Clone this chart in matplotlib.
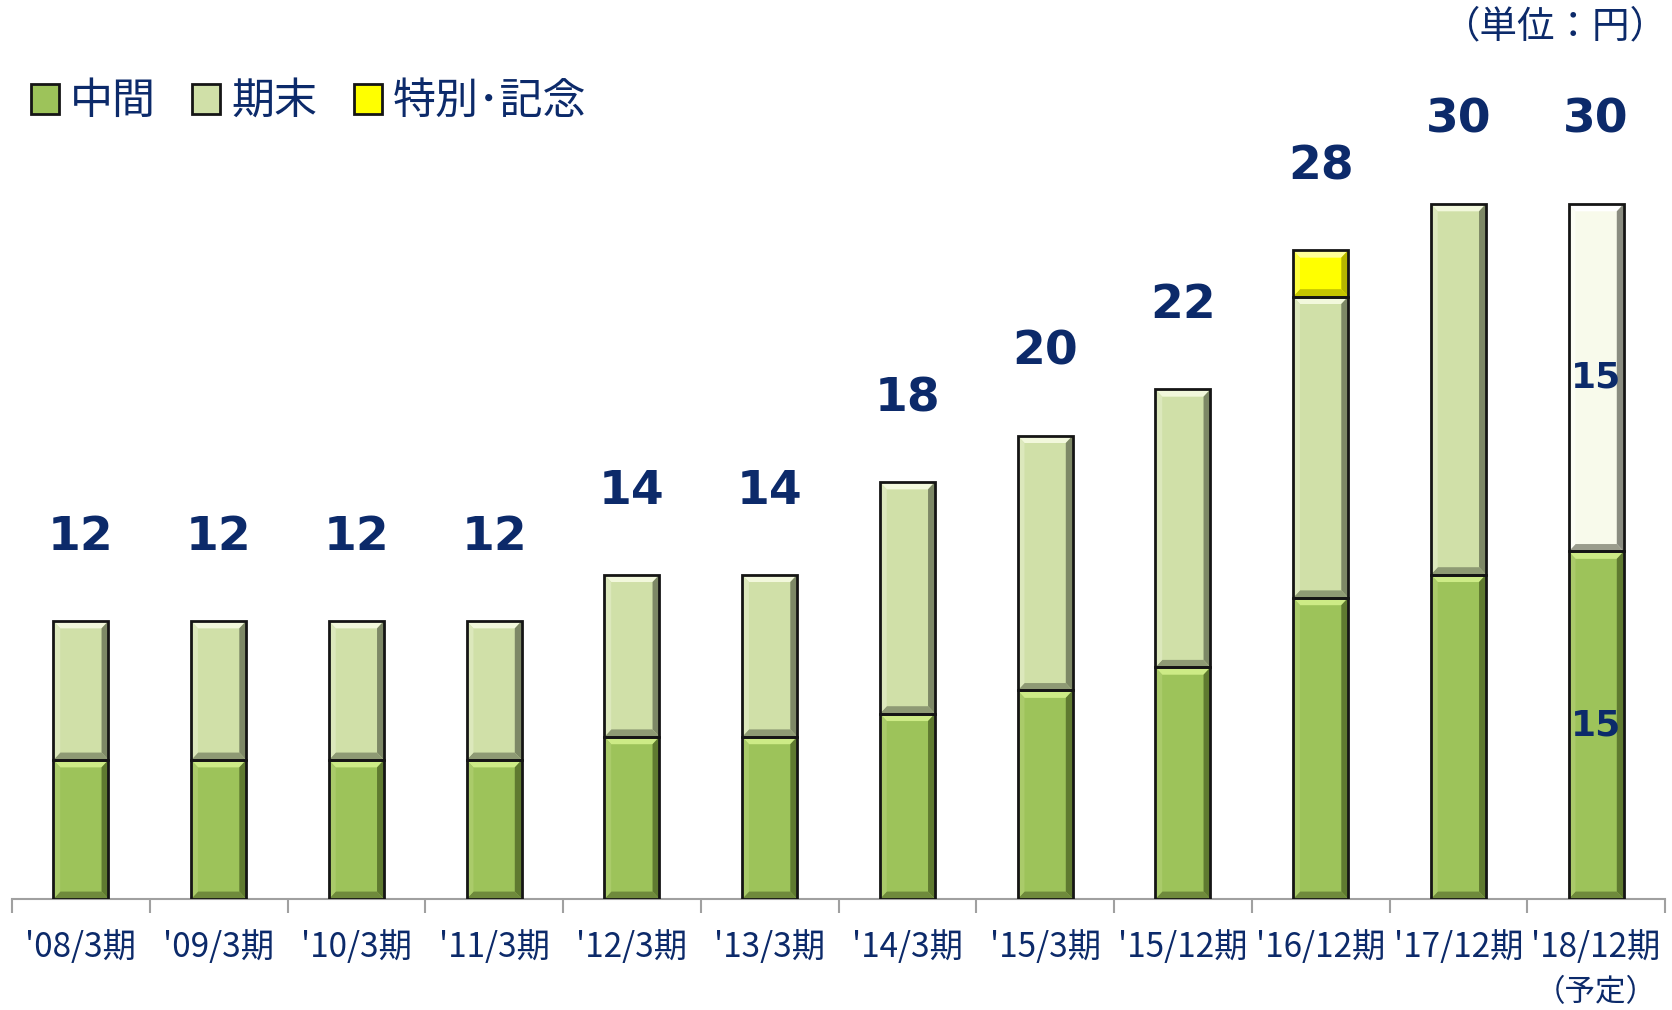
import matplotlib
matplotlib.use("Agg")
import matplotlib.pyplot as plt
from matplotlib.patches import Polygon, Rectangle, Patch

plt.rcParams['font.family'] = ['Noto Sans CJK JP', 'DejaVu Sans']

categories = ["'08/3期", "'09/3期", "'10/3期", "'11/3期", "'12/3期", "'13/3期",
              "'14/3期", "'15/3期", "'15/12期", "'16/12期", "'17/12期", "'18/12期"]
interim = [6, 6, 6, 6, 7, 7, 8, 9, 10, 13, 14, 15]
yearend = [6, 6, 6, 6, 7, 7, 10, 11, 12, 13, 16, 15]
special = [0, 0, 0, 0, 0, 0, 0, 0, 0, 2, 0, 0]
totals = [12, 12, 12, 12, 14, 14, 18, 20, 22, 28, 30, 30]
legend_labels = ["中間", "期末", "特別･記念"]

NAVY = "#0C2A6A"
W, H = 1672, 1010
fig = plt.figure(figsize=(W / 100, H / 100), dpi=100)
ax = fig.add_axes([12 / W, 111 / H, (1665 - 12) / W, 899 / H])
n = len(categories)
ax.set_xlim(-0.5, n - 0.5)
ax.set_ylim(0, 899 / 23.17)

x = list(range(n))
bw = 0.40
# colour sets: face, top, right, bottom, left
C_INT = ("#9DC35A", "#CDEB86", "#5F7A30", "#6F8A3C", "#AACB6A")
C_END = ("#D0E0A8", "#F2F8DC", "#7D8866", "#8E9A74", "#DCE8BC")
C_PLAN = ("#F8FAEB", "#FFFFFF", "#8A8C80", "#9A9C8C", "#FCFDF4")
C_SP = ("#FFFF00", "#FFFF99", "#B5B500", "#C4C400", "#FFFF40")

bx, by = 0.05, 0.32


def seg(xc, bottom, h, cols):
    if h <= 0:
        return
    face, ctop, cright, cbot, cleft = cols
    L, R = xc - bw / 2, xc + bw / 2
    b, t = bottom, bottom + h
    ax.add_patch(Rectangle((L, b), bw, h, facecolor=face, edgecolor="none", zorder=2))
    ax.add_patch(Polygon([(L, t), (R, t), (R - bx, t - by), (L + bx, t - by)],
                         closed=True, facecolor=ctop, edgecolor="none", zorder=3))
    ax.add_patch(Polygon([(R, t), (R, b), (R - bx, b + by), (R - bx, t - by)],
                         closed=True, facecolor=cright, edgecolor="none", zorder=3))
    ax.add_patch(Polygon([(L, b), (R, b), (R - bx, b + by), (L + bx, b + by)],
                         closed=True, facecolor=cbot, edgecolor="none", zorder=3))
    ax.add_patch(Polygon([(L, t), (L, b), (L + bx, b + by), (L + bx, t - by)],
                         closed=True, facecolor=cleft, edgecolor="none", zorder=3))
    ax.add_patch(Rectangle((L, b), bw, h, facecolor="none", edgecolor="#151515",
                           linewidth=2.0, zorder=4))


for i in x:
    seg(i, 0, interim[i], C_INT)
    seg(i, interim[i], yearend[i], C_PLAN if i == n - 1 else C_END)
    seg(i, interim[i] + yearend[i], special[i], C_SP)
    ax.text(i, totals[i] + 3.6, str(totals[i]), ha="center", va="center",
            fontsize=34, fontweight="bold", color=NAVY, family="DejaVu Sans")

# inner labels for planned bar
ax.text(n - 1, interim[-1] / 2, str(interim[-1]), ha="center", va="center",
        fontsize=26, fontweight="bold", color=NAVY, family="DejaVu Sans", zorder=6)
ax.text(n - 1, interim[-1] + yearend[-1] / 2, str(yearend[-1]), ha="center", va="center",
        fontsize=26, fontweight="bold", color=NAVY, family="DejaVu Sans", zorder=6)

for s in ["top", "right", "left"]:
    ax.spines[s].set_visible(False)
ax.spines["bottom"].set_color("#A0A0A0")
ax.spines["bottom"].set_linewidth(1.5)
ax.set_yticks([])
ax.set_xticks([i - 0.5 for i in range(n + 1)], minor=False)
ax.set_xticklabels([])
ax.tick_params(axis="x", length=10, width=1.5, color="#A0A0A0", direction="out")
ax.set_xticks(x, minor=True)
ax.set_xticklabels(categories, minor=True)
ax.tick_params(axis="x", which="minor", length=0, pad=22, labelsize=24, labelcolor=NAVY)

ax.text(n - 1, -3.35, "（予定）", ha="center", va="top", fontsize=22, color=NAVY)

fig.text(1668 / W, 1 - 27 / H, "（単位：円）", ha="right", va="center", fontsize=27, color=NAVY)

handles = [Patch(facecolor=C_INT[0], edgecolor="#151515", linewidth=2),
           Patch(facecolor=C_END[0], edgecolor="#151515", linewidth=2),
           Patch(facecolor=C_SP[0], edgecolor="#151515", linewidth=2)]
leg = fig.legend(handles, legend_labels, loc="center left", bbox_to_anchor=(31 / W, 1 - 102 / H),
                 ncol=3, frameon=False, fontsize=31, handlelength=0.65, handleheight=0.7,
                 handletextpad=0.25, columnspacing=0.85, labelcolor=NAVY, borderaxespad=0,
                 borderpad=0)

fig.savefig("out.png", dpi=100)
